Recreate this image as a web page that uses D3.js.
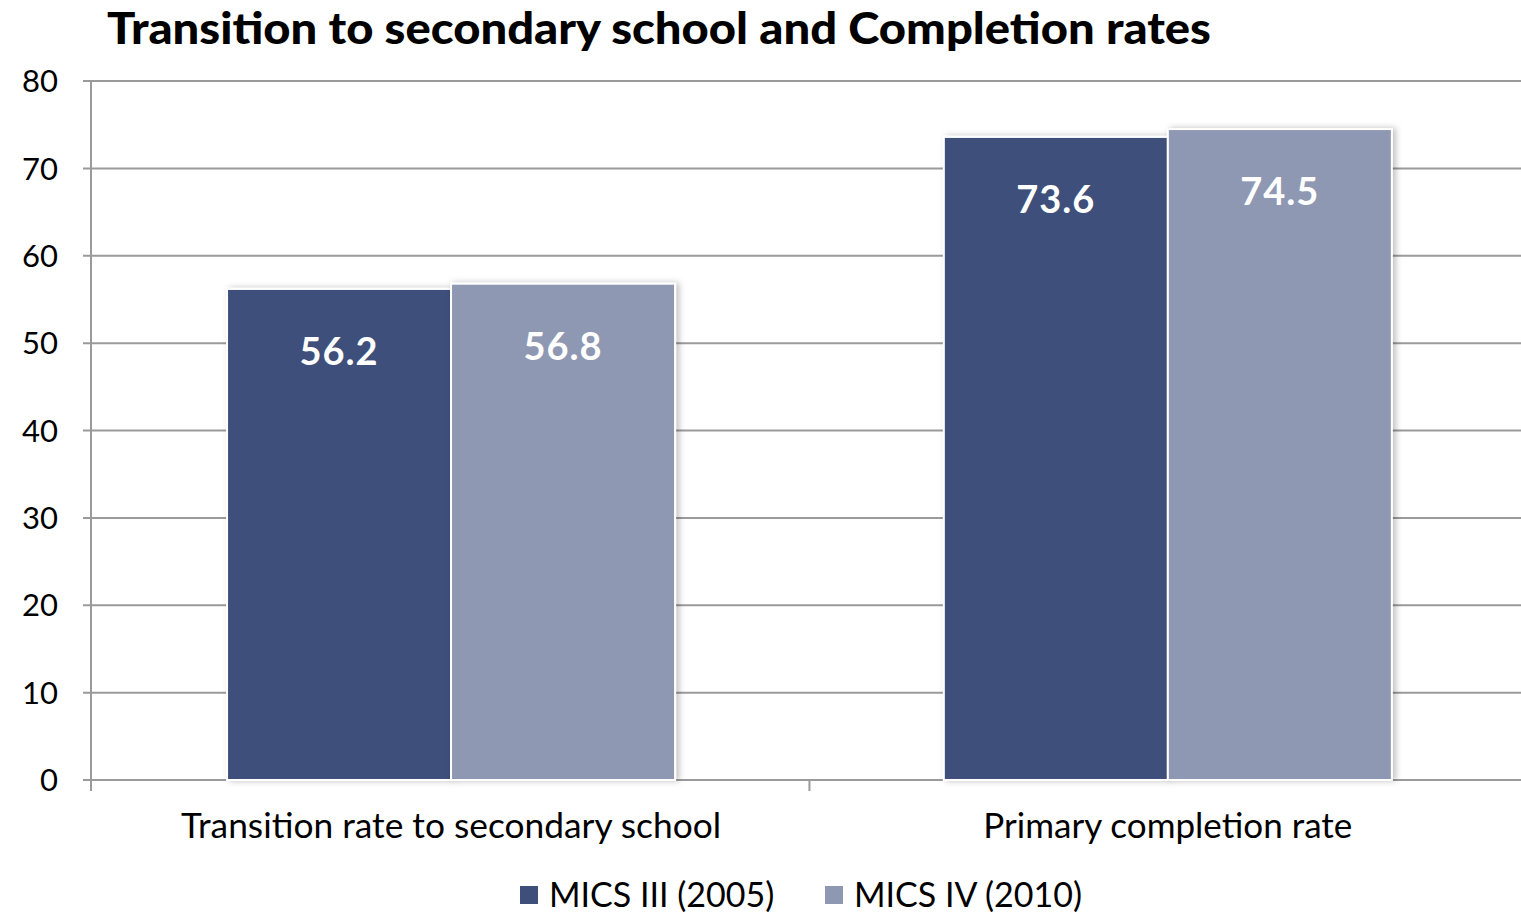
<!DOCTYPE html>
<html><head><meta charset="utf-8">
<script src="https://cdn.jsdelivr.net/npm/d3@7"></script>
<style>body{margin:0;background:#fff;} svg{display:block;font-family:Lato,"Open Sans",sans-serif;}</style>
</head><body>
<svg id="c" width="1521" height="918"></svg>
<script>
const title = "Transition to secondary school and Completion rates";
const categories = ["Transition rate to secondary school", "Primary completion rate"];
const seriesNames = ["MICS III (2005)", "MICS IV (2010)"];
const mics3 = [56.2, 73.6];
const mics4 = [56.8, 74.5];
const yTicks = [0,10,20,30,40,50,60,70,80];
const colors = ["#3e4f7a", "#8f98b3"];

const svg = d3.select("#c");
const m = {l:91, r:1521, t:81, b:780};
const x0 = d3.scaleBand().domain(categories).range([m.l, m.r]).paddingInner(0.375).paddingOuter(0.185).align(0.513);
const x1 = d3.scaleBand().domain(seriesNames).range([0, x0.bandwidth()]);
const y = d3.scaleLinear().domain([0,80]).range([m.b, m.t]);

const defs = svg.append("defs");
const f = defs.append("filter").attr("id","sh").attr("x","-10%").attr("y","-10%").attr("width","130%").attr("height","120%");
f.append("feDropShadow").attr("dx",3).attr("dy",0).attr("stdDeviation",3).attr("flood-color","#000").attr("flood-opacity",0.25);

// grid
svg.append("g").selectAll("line").data(yTicks).join("line")
  .attr("x1", m.l-8).attr("x2", m.r).attr("y1", d=>y(d)).attr("y2", d=>y(d))
  .attr("stroke","#9a9a9a").attr("stroke-width",2);
// y axis line
svg.append("line").attr("x1",m.l).attr("x2",m.l).attr("y1",m.t).attr("y2",m.b+11).attr("stroke","#9a9a9a").attr("stroke-width",2);
// x category tick between
const mid = (x0(categories[0]) + x0.bandwidth() + x0(categories[1]))/2;
svg.append("line").attr("x1",mid).attr("x2",mid).attr("y1",m.b).attr("y2",m.b+11).attr("stroke","#9a9a9a").attr("stroke-width",2);
// y labels
svg.append("g").selectAll("text").data(yTicks).join("text")
  .attr("x",58).attr("y",d=>y(d)).attr("dy","0.36em").attr("text-anchor","end")
  .attr("font-size",31).attr("fill","#000").text(d=>d);

const data = categories.map((c,i)=>({cat:c, vals:[mics3[i], mics4[i]]}));
const g = svg.append("g").selectAll("g").data(data).join("g").attr("transform", d=>`translate(${x0(d.cat)},0)`);
const bars = g.selectAll("g").data(d=>d.vals.map((v,j)=>({v, s:seriesNames[j], j}))).join("g");
bars.append("rect")
  .attr("x", d=>x1(d.s)).attr("width", x1.bandwidth())
  .attr("y", d=>y(d.v)).attr("height", d=>y(0)-y(d.v))
  .attr("fill", d=>colors[d.j]).attr("stroke","#fff").attr("stroke-width",2)
  .attr("filter","url(#sh)");
bars.append("text")
  .attr("x", d=>x1(d.s)+x1.bandwidth()/2).attr("y", d=>y(d.v)+76)
  .attr("text-anchor","middle").attr("font-weight","bold").attr("font-size",38).attr("fill","#fff")
  .attr("letter-spacing",1)
  .text(d=>d.v.toFixed(1));

// category labels
const catW = [540, 369];
svg.append("g").selectAll("text").data(categories).join("text")
  .attr("x", d=>x0(d)+x0.bandwidth()/2).attr("y", 838).attr("text-anchor","middle")
  .attr("font-size",34).attr("fill","#000")
  .attr("textLength",(d,i)=>catW[i]).attr("lengthAdjust","spacingAndGlyphs")
  .text(d=>d);

// title
svg.append("text").attr("x",107).attr("y",44).attr("font-weight","900").attr("font-size",43).attr("fill","#000")
  .attr("textLength",1104).attr("lengthAdjust","spacingAndGlyphs").text(title);

// legend
const lg = svg.append("g");
const lx = [520, 825];
seriesNames.forEach((s,i)=>{
  lg.append("rect").attr("x",lx[i]).attr("y",886).attr("width",18).attr("height",18).attr("fill",colors[i]);
  lg.append("text").attr("x",lx[i]+29).attr("y",907).attr("font-size",34).attr("fill","#000").text(s);
});
</script>
</body></html>
